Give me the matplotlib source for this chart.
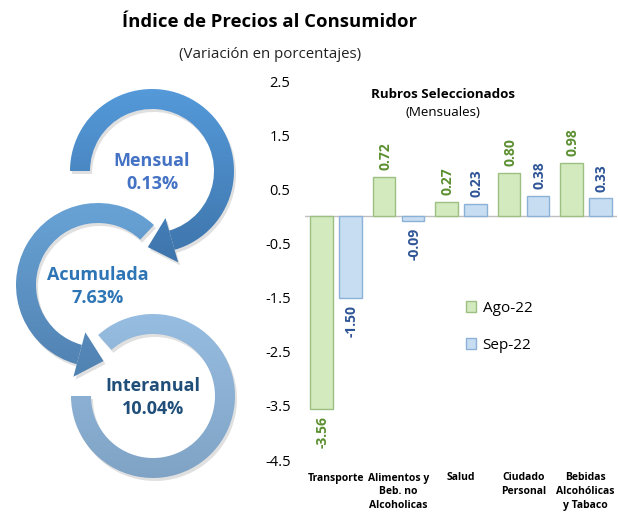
import numpy as np
import matplotlib
matplotlib.use("Agg")
import matplotlib.pyplot as plt
from matplotlib.patches import Wedge, Polygon, Patch
from matplotlib.colors import LinearSegmentedColormap

plt.rcParams['font.family'] = ['Open Sans', 'DejaVu Sans']

# data
categories = ["Transporte", "Alimentos y\nBeb. no\nAlcoholicas", "Salud",
              "Ciudado\nPersonal", "Bebidas\nAlcohólicas\ny Tabaco"]
ago_22 = [-3.56, 0.72, 0.27, 0.80, 0.98]
sep_22 = [-1.50, -0.09, 0.23, 0.38, 0.33]
series_names = ["Ago-22", "Sep-22"]
indicator_names = ["Mensual", "Acumulada", "Interanual"]
indicator_values = ["0.13%", "7.63%", "10.04%"]
yticks = [2.5, 1.5, 0.5, -0.5, -1.5, -2.5, -3.5, -4.5]

W, H = 618, 513
fig = plt.figure(figsize=(W / 100, H / 100), dpi=100)

# overlay in pixel coordinates (y up)
ov = fig.add_axes([0, 0, 1, 1])
ov.set_xlim(0, W)
ov.set_ylim(0, H)
ov.axis('off')

ov.text(270, H - 22, "Índice de Precios al Consumidor", ha='center', va='center',
        fontsize=13.3, fontweight='bold', color='black')
ov.text(270, H - 55, "(Variación en porcentajes)", ha='center', va='center',
        fontsize=10.8, color='#222222')

# circular arrows: center, theta1, theta2, arrow end, direction, colors (bottom, top)
rings = [
    dict(c=(152, H - 171), t1=-74, t2=180, arrow=-74, sign=-1, cols=('#3a6ea3', '#5aa2e4'),
         tc='#4472C4'),
    dict(c=(98, H - 285), t1=47, t2=255, arrow=255, sign=1, cols=('#4c7cab', '#6eaade'),
         tc='#2E75B6'),
    dict(c=(153, H - 396), t1=-180, t2=132, arrow=None, sign=0, cols=('#7a9dbe', '#9cc3e8'),
         tc='#1F4E79'),
]
r_out, ring_w = 82, 20
r_mid = r_out - ring_w / 2

for i, rg in enumerate(rings):
    cx, cy = rg['c']
    cmap = LinearSegmentedColormap.from_list('g%d' % i, rg['cols'])
    grad = np.linspace(0, 1, 256).reshape(-1, 1)
    ext = (cx - r_out - 40, cx + r_out + 40, cy - r_out - 40, cy + r_out + 40)

    shapes = [Wedge((cx, cy), r_out, rg['t1'], rg['t2'], width=ring_w)]
    if rg['arrow'] is not None:
        th = np.radians(rg['arrow'])
        radial = np.array([np.cos(th), np.sin(th)])
        tang = rg['sign'] * np.array([-np.sin(th), np.cos(th)])
        base = np.array([cx, cy]) + r_mid * radial
        shapes.append(Polygon([base + 23 * radial, base - 23 * radial, base + 25 * tang],
                              closed=True))
    for sh in shapes:
        # soft shadow
        sd = Wedge((cx + 2, cy - 3), r_out, rg['t1'], rg['t2'], width=ring_w) \
            if isinstance(sh, Wedge) else Polygon(sh.get_xy() + [2, -3], closed=True)
        sd.set_facecolor('#000000')
        sd.set_alpha(0.12)
        sd.set_edgecolor('none')
        ov.add_patch(sd)
    for sh in shapes:
        sh.set_facecolor('none')
        sh.set_edgecolor('none')
        ov.add_patch(sh)
        im = ov.imshow(grad, cmap=cmap, extent=ext, origin='lower', aspect='auto', zorder=2)
        im.set_clip_path(sh)
    ov.text(cx, cy + 10, indicator_names[i], ha='center', va='center',
            fontsize=13, fontweight='bold', color=rg['tc'], zorder=3)
    ov.text(cx, cy - 13, indicator_values[i], ha='center', va='center',
            fontsize=13, fontweight='bold', color=rg['tc'], zorder=3)

ov.set_xlim(0, W)
ov.set_ylim(0, H)

# bar chart
ax = fig.add_axes([304.5 / W, 53 / H, 312.5 / W, 379 / H])
ax.patch.set_alpha(0)
x = np.arange(len(categories))
bw, off = 0.36, 0.232
green_fc, green_ec, green_tc = '#d3eabf', '#9dbf82', '#5b8f2f'
blue_fc, blue_ec, blue_tc = '#c7ddf2', '#8cb1d6', '#2f5597'
b1 = ax.bar(x - off, ago_22, bw, color=green_fc, edgecolor=green_ec, linewidth=1, zorder=3)
b2 = ax.bar(x + off, sep_22, bw, color=blue_fc, edgecolor=blue_ec, linewidth=1, zorder=3)

for bars, vals, col in [(b1, ago_22, green_tc), (b2, sep_22, blue_tc)]:
    for b, v in zip(bars, vals):
        xc = b.get_x() + b.get_width() / 2
        ax.annotate("%.2f" % v, (xc, v), xytext=(1, 5 if v > 0 else -5),
                    textcoords='offset points', rotation=90, ha='center',
                    va='bottom' if v > 0 else 'top', fontsize=10, fontweight='bold',
                    color=col)

ax.axhline(0, color='#bfbfbf', linewidth=1, zorder=2)
ax.set_ylim(-4.5, 2.5)
ax.set_xlim(-0.5, len(categories) - 0.5)
ax.set_yticks(yticks)
ax.set_yticklabels(["%.1f" % t for t in yticks])
ax.set_xticks(x)
ax.set_xticklabels(categories, fontsize=7.5, fontweight='bold', linespacing=1.35)
ax.tick_params(axis='y', length=0, pad=10, labelsize=10.5)
ax.tick_params(axis='x', length=0, pad=9)
for s in ax.spines.values():
    s.set_visible(False)

ov.text(443, H - 94, "Rubros Seleccionados", ha='center', va='center',
        fontsize=9.6, fontweight='bold', zorder=4)
ov.text(443, H - 112, "(Mensuales)", ha='center', va='center', fontsize=9.6, zorder=4)

handles = [Patch(facecolor=green_fc, edgecolor=green_ec),
           Patch(facecolor=blue_fc, edgecolor=blue_ec)]
fig.legend(handles, series_names, loc='upper left', bbox_to_anchor=(452 / W, 1 - 287 / H),
           frameon=False, fontsize=11, handlelength=0.7, handleheight=0.7,
           handletextpad=0.4, labelspacing=1.45)

fig.savefig("out.png", dpi=100)
